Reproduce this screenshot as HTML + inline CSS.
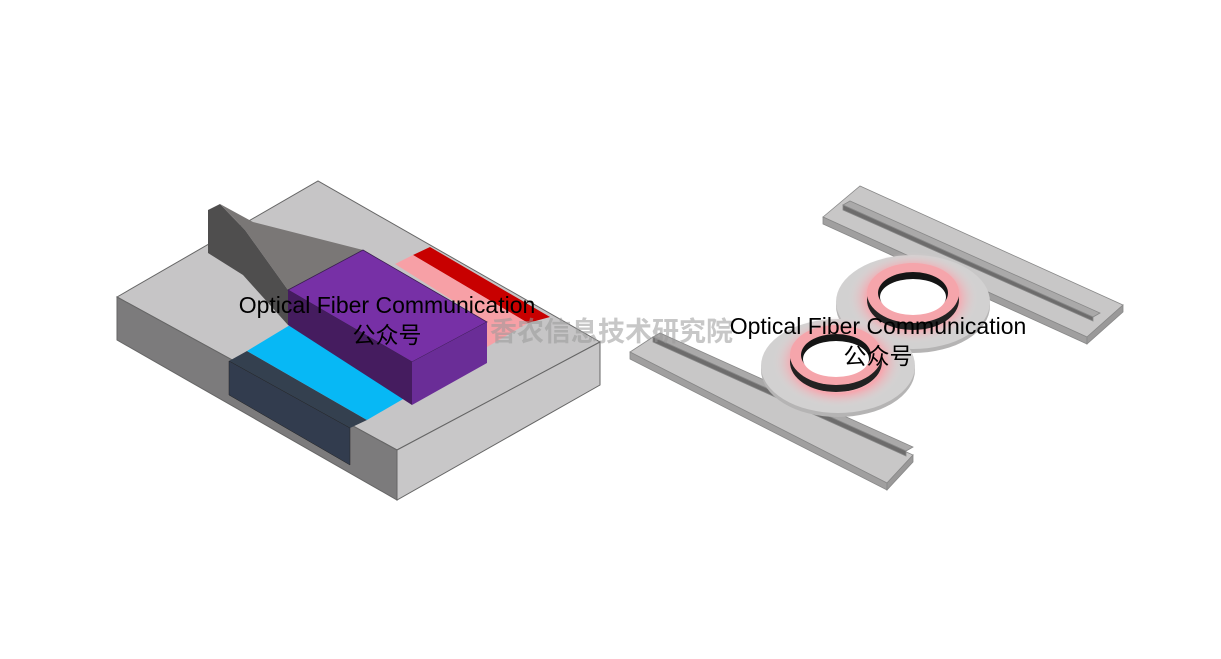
<!DOCTYPE html>
<html><head><meta charset="utf-8"><style>
html,body{margin:0;padding:0;background:#fff;}
svg{display:block}
</style></head><body>
<svg width="1221" height="659" viewBox="0 0 1221 659" xmlns="http://www.w3.org/2000/svg">
<defs>
<radialGradient id="glow" cx="50%" cy="50%" r="50%">
<stop offset="0.5" stop-color="#fff"/><stop offset="0.68" stop-color="#f7a5ad"/><stop offset="1" stop-color="#d8d8d8" stop-opacity="0"/>
</radialGradient>
</defs>
<g stroke="#666" stroke-width="1">
<polygon points="117,297 318,181 600,342 397,450" fill="#c6c5c6"/>
<polygon points="117,297 397,450 397,500 117,340" fill="#7c7b7c"/>
<polygon points="397,450 600,342 600,385 397,500" fill="#c8c7c8"/>
</g>
<polygon points="208,210 220,204 245,230 288,290 288,325 243,275 208,253" fill="#4f4e4e"/>
<polygon points="220,204 253,222 363,250 288,290 245,230" fill="#7a7776"/>
<polygon points="413,255 430,247 550,317 528,323" fill="#c80000"/>
<polygon points="395,264 413,255 528,323 487,347 487,322" fill="#f7a0a6"/>
<polygon points="229,361 247,351 367,420 350,428" fill="#34404f"/>
<polygon points="229,361 350,428 350,465 229,395" fill="#323c4e" stroke="#222" stroke-width="0.5"/>
<polygon points="247,351 290,325 410,395 367,420" fill="#07b8f5"/>
<polygon points="288,290 363,250 487,322 412,362" fill="#7730a6" stroke="#3a1f50" stroke-width="0.8"/>
<polygon points="288,290 412,362 412,405 288,325" fill="#451c5f"/>
<polygon points="412,362 487,322 487,363 412,405" fill="#6a2d97"/>
<g stroke="#888" stroke-width="0.8">
<polygon points="823,217 860,186 1123,305 1087,337" fill="#c8c7c7"/>
<polygon points="823,217 1087,337 1087,344 823,224" fill="#a09f9f"/>
<polygon points="1087,337 1123,305 1123,312 1087,344" fill="#9a9999"/>
<polygon points="843,205 850,201 1100,313 1093,317" fill="#aaa9a9"/>
<polygon points="843,205 1093,317 1093,321 843,210" fill="#6d6c6c"/>
<polygon points="630,352 653,337 913,455 887,483" fill="#c8c7c7"/>
<polygon points="630,352 887,483 887,490 630,359" fill="#a09f9f"/>
<polygon points="887,483 913,455 913,462 887,490" fill="#9a9999"/>
<polygon points="653,337 660,333 913,447 906,451" fill="#aaa9a9"/>
<polygon points="653,337 906,451 906,456 653,342" fill="#6d6c6c"/>
</g>
<ellipse cx="913" cy="306" rx="77" ry="47" fill="#b5b4b4"/>
<ellipse cx="913" cy="302" rx="77" ry="47" fill="#d2d1d1"/>
<ellipse cx="838" cy="370" rx="77" ry="47" fill="#b5b4b4"/>
<ellipse cx="838" cy="366" rx="77" ry="47" fill="#d2d1d1"/>
<ellipse cx="913" cy="298" rx="66" ry="46" fill="url(#glow)"/>
<ellipse cx="838" cy="362" rx="66" ry="46" fill="url(#glow)"/>
<ellipse cx="913" cy="300" rx="46" ry="30" fill="#222"/>
<ellipse cx="913" cy="293" rx="46" ry="30" fill="#f5a5ab"/>
<ellipse cx="913" cy="293" rx="35" ry="21" fill="#151515"/>
<ellipse cx="913" cy="297" rx="33" ry="18" fill="#fff"/>
<ellipse cx="836" cy="362" rx="46" ry="30" fill="#222"/>
<ellipse cx="836" cy="355" rx="46" ry="30" fill="#f5a5ab"/>
<ellipse cx="836" cy="355" rx="35" ry="21" fill="#151515"/>
<ellipse cx="836" cy="359" rx="33" ry="18" fill="#fff"/>
<text x="490" y="341" font-family="'Noto Sans CJK SC',sans-serif" font-weight="bold" font-size="27" fill="#999" fill-opacity="0.55">香农信息技术研究院</text>
<g font-family="'Liberation Sans','Noto Sans CJK SC',sans-serif" font-size="23" fill="#000" text-anchor="middle">
<text x="387" y="313">Optical Fiber Communication</text>
<text x="387" y="343">公众号</text>
<text x="878" y="334">Optical Fiber Communication</text>
<text x="878" y="364">公众号</text>
</g>
</svg>
</body></html>
